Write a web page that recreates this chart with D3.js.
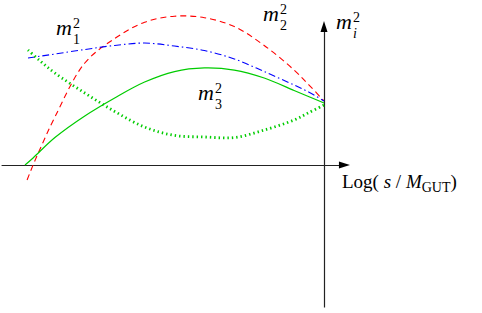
<!DOCTYPE html>
<html>
<head>
<meta charset="utf-8">
<script src="https://cdn.jsdelivr.net/npm/d3@7"></script>
<style>
  body { margin: 0; background: #fff; }
  text { font-family: "Liberation Serif", "DejaVu Serif", serif; fill: #000; }
</style>
</head>
<body>
<div id="chart"></div>
<script>
// chart size
var svgWidth = 482;
var svgHeight = 313;

// x = Log(s / M_GUT), arbitrary units (0 at the GUT scale)
var xGrid = [-9.9, -9.5, -9, -8, -7, -6, -5, -4, -3, -2, -1, -0.5, 0];

// m_2^2 (red dashed) starts a bit lower, below zero
var m2x = [-9.93, -9.73, -9.5, -9, -8, -7, -6, -5, -4, -3, -2, -1, -0.5, 0];
var m2y = [-1.0, 0.0, 1.05, 3.2, 6.8, 8.43, 9.52, 9.92, 9.82, 9.23, 7.97, 6.33, 5.33, 4.27];

// m_1^2 (blue dash-dot)
var m1y = [7.13, 7.25, 7.4, 7.7, 7.97, 8.13, 7.93, 7.63, 7.07, 6.23, 5.33, 4.85, 4.27];

// m_3^2 (green solid) starts at zero
var m3x = [-10, -9.73, -9, -8, -7, -6, -5, -4, -3, -2, -1, -0.5, 0];
var m3y = [0.0, 0.47, 1.83, 3.27, 4.47, 5.53, 6.23, 6.47, 6.33, 5.8, 4.97, 4.55, 4.13];

// second m_3^2 branch (green dotted)
var m3dy = [7.67, 6.95, 6.13, 4.8, 3.57, 2.53, 1.97, 1.87, 1.83, 2.33, 3.0, 3.5, 4.0];

var svg = d3.select("#chart")
  .append("svg")
  .attr("width", svgWidth)
  .attr("height", svgHeight);

// scales
var xScale = d3.scaleLinear().domain([-10, 0]).range([25, 324]);
var yScale = d3.scaleLinear().domain([0, 10]).range([165, 15]);

// axes without ticks, just the lines
var xAxisScale = d3.scaleLinear().domain([-10.8, 0.6]).range([xScale(-10.8), xScale(0.6)]);
var yAxisScale = d3.scaleLinear().domain([-9.47, 9.0]).range([yScale(-9.47), yScale(9.0)]);

var xAxis = svg.append("g")
  .attr("transform", `translate(0, ${yScale(0)})`)
  .call(d3.axisBottom(xAxisScale).tickValues([]).tickSizeOuter(0));

var yAxis = svg.append("g")
  .attr("transform", `translate(${xScale(0)}, 0)`)
  .call(d3.axisLeft(yAxisScale).tickValues([]).tickSizeOuter(0));

svg.selectAll(".domain")
  .attr("stroke", "#222")
  .attr("stroke-width", 1.2);

// arrow heads
var xEnd = xScale(0.6), y0 = yScale(0);
svg.append("path")
  .attr("d", `M${xEnd + 8},${y0} L${xEnd - 3},${y0 - 3.5} L${xEnd - 3},${y0 + 3.5} Z`)
  .attr("fill", "#000");

var yEnd = yScale(9.0), x0 = xScale(0);
svg.append("path")
  .attr("d", `M${x0},${yEnd - 9} L${x0 - 3.5},${yEnd + 2} L${x0 + 3.5},${yEnd + 2} Z`)
  .attr("fill", "#000");

// curves
var line = d3.line()
  .x(d => xScale(d[0]))
  .y(d => yScale(d[1]))
  .curve(d3.curveCatmullRom.alpha(0.5));

var curves = [
  { pts: d3.zip(m2x, m2y), color: "#ff0000", width: 1.1, dash: "6 4" },
  { pts: d3.zip(xGrid, m1y), color: "#0000ff", width: 1.1, dash: "7 3 1.5 3" },
  { pts: d3.zip(m3x, m3y), color: "#00cc00", width: 1.2, dash: null },
  { pts: d3.zip(xGrid, m3dy), color: "#00cc00", width: 2.8, dash: "1.4 3" }
];

svg.selectAll(".curve")
  .data(curves)
  .enter()
  .append("path")
  .attr("class", "curve")
  .attr("d", d => line(d.pts))
  .attr("fill", "none")
  .attr("stroke", d => d.color)
  .attr("stroke-width", d => d.width)
  .attr("stroke-dasharray", d => d.dash);

// m^2 labels with stacked super / subscript
function massLabel(x, y, sub) {
  var g = svg.append("g");
  g.append("text")
    .attr("x", x)
    .attr("y", y)
    .attr("font-size", 22)
    .attr("font-style", "italic")
    .text("m");
  g.append("text")
    .attr("x", x + 17)
    .attr("y", y - 7)
    .attr("font-size", 14)
    .text("2");
  g.append("text")
    .attr("x", x + 17)
    .attr("y", y + 9)
    .attr("font-size", 14)
    .attr("font-style", sub === "i" ? "italic" : "normal")
    .text(sub);
}

massLabel(56, 35, "1");
massLabel(263, 21, "2");
massLabel(198, 100, "3");
massLabel(336, 29, "i");

// x-axis label
var xlabel = svg.append("text")
  .attr("x", 342)
  .attr("y", 188)
  .attr("font-size", 19);
xlabel.append("tspan").text("Log(");
xlabel.append("tspan").attr("font-style", "italic").text(" s ");
xlabel.append("tspan").text("/ ");
xlabel.append("tspan").attr("font-style", "italic").text("M");
xlabel.append("tspan").attr("font-size", 14).attr("dy", 4).text("GUT");
xlabel.append("tspan").attr("dy", -4).text(")");
</script>
</body>
</html>
